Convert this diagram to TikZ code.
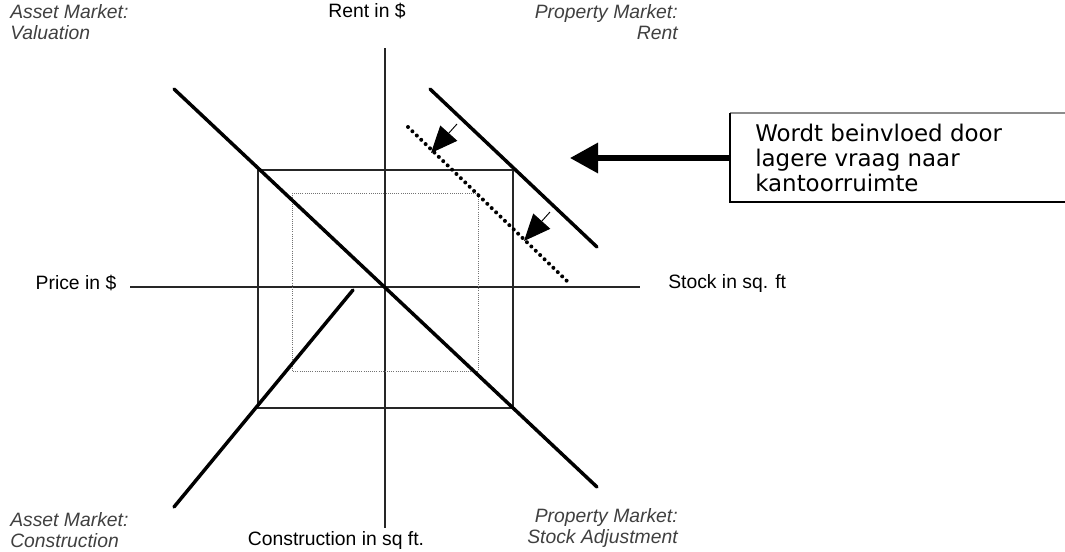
\documentclass[tikz,border=0pt]{standalone}
\usepackage{fontspec}
\setmainfont{Liberation Sans}
\newfontfamily\boxfont{DejaVu Sans}
\usetikzlibrary{arrows.meta}
\begin{document}
\begin{tikzpicture}[x=0.75pt,y=-0.75pt,
  axis/.style={line width=1pt,black!85},
  thick curve/.style={line width=2.6pt,line cap=round},
  frame/.style={line width=1.1pt,black!85},
  inner frame/.style={line width=0.6pt,black!55,densely dotted},
  dotcurve/.style={line width=3pt,dash pattern=on 0pt off 4.6pt,line cap=round},
  lbl/.style={font=\fontsize{14.5}{16}\selectfont,inner sep=0pt},
  ilbl/.style={font=\fontsize{14.5}{16}\selectfont\itshape,inner sep=0pt,black!75},
  small arrow/.style={line width=0.7pt,-{Triangle[length=20pt,width=17pt]}},
  big arrow/.style={line width=4pt,-{Triangle[length=21pt,width=22pt]}}
]
\useasboundingbox (0,0) rectangle (1065,551);
% axes
\coordinate (vt) at (385,48);
\coordinate (vb) at (385,528);
\coordinate (hl) at (130,287);
\coordinate (hr) at (640,287);
\draw[axis] (vt) -- (vb);
\draw[axis] (hl) -- (hr);
% frames
\coordinate (r1) at (258,170);
\coordinate (r2) at (513,408);
\draw[frame] (r1) rectangle (r2);
\coordinate (d1) at (292,193);
\coordinate (d2) at (478,371);
\draw[inner frame] (d1) rectangle (d2);
% curves
\coordinate (va) at (174,89);
\coordinate (vb2) at (597,487);
\draw[thick curve] (va) -- (vb2);
\coordinate (ca) at (174,507);
\coordinate (cb) at (353,290);
\draw[thick curve] (ca) -- (cb);
\coordinate (ra) at (430,89);
\coordinate (rb) at (597,247);
\draw[thick curve] (ra) -- (rb);
\coordinate (da) at (408,127);
\coordinate (db) at (568,282);
\draw[dotcurve] (da) -- (db);
% small arrows
\coordinate (s1a) at (457,124);
\coordinate (s1b) at (431,153);
\coordinate (s2a) at (550,212);
\coordinate (s2b) at (524,241);
\draw[small arrow] (s1a) -- (s1b);
\draw[small arrow] (s2a) -- (s2b);
% note box
\draw[line width=0.9pt,black!45] (730,113) -- (1070,113);
\draw[line width=1.3pt] (730,113) -- (730,202) -- (1070,202);
\node[anchor=north west,inner sep=0pt,align=left,font=\boxfont\fontsize{17.2}{18.8}\selectfont] (note) at (755,124) {Wordt beinvloed door\\lagere vraag naar\\kantoorruimte};
\coordinate (arrs) at (730,158);
\coordinate (arrt) at (570,158);
\draw[big arrow] (arrs) -- (arrt);
% labels
\node[lbl,anchor=center] (rent) at (367,11) {Rent in \$};
\node[lbl,anchor=center] (price) at (76,283) {Price in \$};
\node[lbl,anchor=west] (stock) at (668,283) {Stock in sq. ft};
\node[lbl,anchor=center] (constr) at (336,540) {Construction in sq ft.};
\node[ilbl,anchor=north west,align=left] (amv) at (10,4) {Asset Market:\\Valuation};
\node[ilbl,anchor=north east,align=right] (pmr) at (678,4) {Property Market:\\Rent};
\node[ilbl,anchor=south west,align=left] (amc) at (10,548) {Asset Market:\\Construction};
\node[ilbl,anchor=south east,align=right] (pms) at (678,548) {Property Market:\\Stock Adjustment};
\end{tikzpicture}
\end{document}
